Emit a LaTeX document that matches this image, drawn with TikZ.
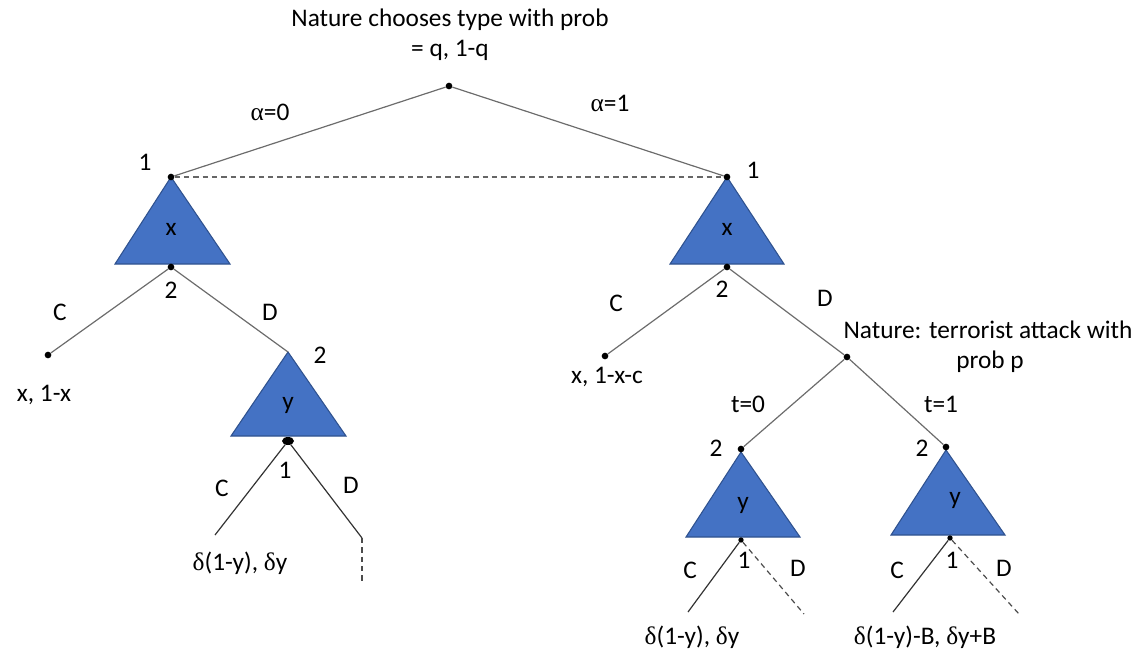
\documentclass[tikz,border=0pt]{standalone}
\usepackage{fontspec}
\usetikzlibrary{shapes.geometric}
\setmainfont{Carlito}
\newfontfamily\grk{Liberation Serif}
\begin{document}
\begin{tikzpicture}[x=0.75pt,y=-0.75pt,
  every node/.style={font=\fontsize{19}{22}\selectfont},
  dot/.style={circle,fill=black,inner sep=0pt,minimum size=5pt},
  bigdot/.style={ellipse,fill=black,inner sep=0pt,minimum width=9pt,minimum height=6pt},
  gline/.style={draw=gray!85!black,line width=0.9pt},
  bline/.style={draw=black!80,line width=0.9pt},
  dline/.style={draw=black!70,line width=0.9pt,dash pattern=on 4pt off 3pt},
  tri/.style={fill={rgb,255:red,68;green,114;blue,196},draw={rgb,255:red,47;green,82;blue,143},line width=0.8pt},
  lbl/.style={inner sep=1pt}]
\useasboundingbox (0,0) rectangle (1145,654);
% triangles
\path[tri] (171,177) -- (115,264) -- (230,264) -- cycle;
\path[tri] (727,177) -- (670,264) -- (784,264) -- cycle;
\path[tri] (288,352) -- (231,436) -- (346,436) -- cycle;
\path[tri] (741,452) -- (686,537) -- (800,537) -- cycle;
\path[tri] (946,450) -- (891,535) -- (1005,535) -- cycle;
% nodes
\node[dot] (root) at (449,86) {};
\node[dot] (L1) at (171,177) {};
\node[dot] (R1) at (727,177) {};
\node[dot] (L2) at (171,267) {};
\node[dot] (R2) at (727,267) {};
\node[dot] (LC) at (48,355) {};
\node[dot] (RC) at (605,356) {};
\coordinate (Ly) at (288,352);
\node[bigdot] (L3) at (288,441) {};
\coordinate (LCC) at (215,535);
\coordinate (LDD) at (362,538);
\coordinate (LDE) at (362,583);
\node[dot] (N2) at (847,357) {};
\node[dot] (A2) at (741,449) {};
\node[dot] (B2) at (946,447) {};
\node[dot,minimum size=4pt] (A3) at (741,540) {};
\node[dot,minimum size=4pt] (B3) at (950,538) {};
\coordinate (AC) at (688,612);
\coordinate (AD) at (804,614);
\coordinate (BC) at (893,612);
\coordinate (BD) at (1019,614);
% edges
\draw[gline] (root) -- (L1);
\draw[gline] (root) -- (R1);
\draw[dline,draw=black!60] (L1) -- (R1);
\draw[gline] (L2) -- (LC);
\draw[gline] (L2) -- (Ly);
\draw[gline] (R2) -- (RC);
\draw[gline] (R2) -- (N2);
\draw[gline] (N2) -- (A2);
\draw[gline] (N2) -- (B2);
\draw[bline] (L3) -- (LCC);
\draw[bline] (L3) -- (LDD);
\draw[dline] (LDD) -- (LDE);
\draw[bline] (A3) -- (AC);
\draw[dline] (A3) -- (AD);
\draw[bline] (B3) -- (BC);
\draw[dline] (B3) -- (BD);
% labels
\node[lbl] (t1) at (450,20) {Nature chooses type with prob};
\node[lbl] (t2) at (450,50) {= q, 1-q};
\node[lbl] (a0) at (270,112) {{\grk\char"03B1}=0};
\node[lbl] (a1) at (610,103) {{\grk\char"03B1}=1};
\node[lbl] (l1) at (145,162) {1};
\node[lbl] (r1) at (753,170) {1};
\node[lbl] (lx) at (171,229) {x};
\node[lbl] (rx) at (727,229) {x};
\node[lbl] (l2) at (171,290) {2};
\node[lbl] (r2) at (722,289) {2};
\node[lbl] (lcl) at (60,312) {C};
\node[lbl] (ldl) at (270,312) {D};
\node[lbl] (rcl) at (616,303) {C};
\node[lbl] (rdl) at (825,298) {D};
\node[lbl] (lp1) at (44,395) {x, 1-x};
\node[lbl] (rp1) at (607,377) {x, 1-x-c};
\node[lbl] (ly2) at (320,355) {2};
\node[lbl] (ly) at (288,405) {y};
\node[lbl] (ly1) at (285,470) {1};
\node[lbl] (lcc) at (222,488) {C};
\node[lbl] (ldd) at (351,485) {D};
\node[lbl] (lp2) at (240,563) {{\grk\char"03B4}(1-y), {\grk\char"03B4}y};
\node[lbl] (nt1) at (988,330) {Nature: terrorist attack with};
\node[lbl] (nt2) at (990,362) {prob p};
\node[lbl] (t0) at (748,404) {t=0};
\node[lbl] (tt1) at (941,404) {t=1};
\node[lbl] (a2l) at (716,448) {2};
\node[lbl] (b2l) at (922,448) {2};
\node[lbl] (ay) at (743,505) {y};
\node[lbl] (by) at (955,500) {y};
\node[lbl] (a1l) at (744,560) {1};
\node[lbl] (b1l) at (952,560) {1};
\node[lbl] (acl) at (690,570) {C};
\node[lbl] (adl) at (798,568) {D};
\node[lbl] (bcl) at (897,570) {C};
\node[lbl] (bdl) at (1004,568) {D};
\node[lbl] (ap) at (692,637) {{\grk\char"03B4}(1-y), {\grk\char"03B4}y};
\node[lbl] (bp) at (925,637) {{\grk\char"03B4}(1-y)-B, {\grk\char"03B4}y+B};
\end{tikzpicture}
\end{document}
